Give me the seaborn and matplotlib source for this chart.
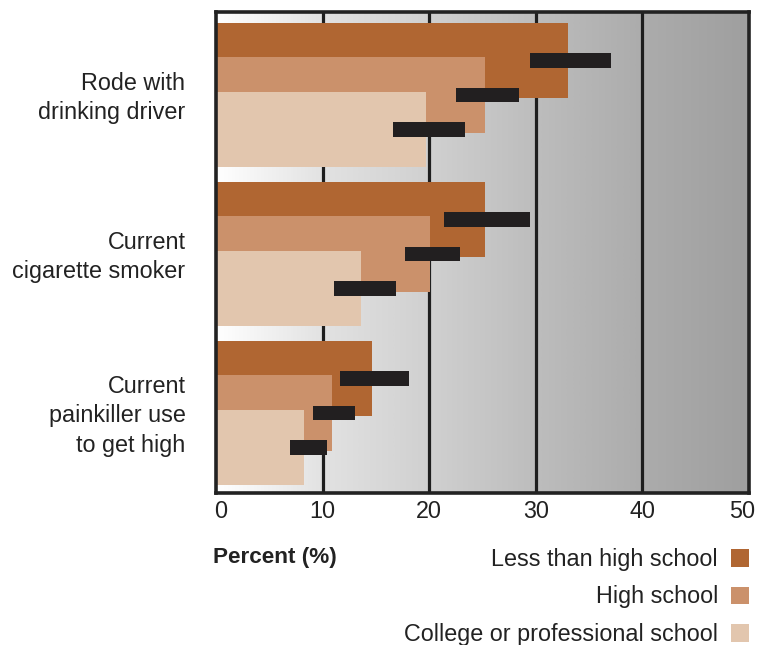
import numpy as np
import pandas as pd
import seaborn as sns
import matplotlib.pyplot as plt
from matplotlib.colors import LinearSegmentedColormap
from matplotlib.patches import Patch
from matplotlib.transforms import ScaledTranslation

# ---- data ----
behaviors = ["Rode with\ndrinking driver", "Current\ncigarette smoker",
             "Current\npainkiller use\nto get high"]
groups = ["Less than high school", "High school", "College or professional school"]
less_hs = [33.0, 25.2, 14.6]
high_school = [25.2, 20.1, 10.9]
college = [19.7, 13.6, 8.3]
less_hs_ci_low = [29.5, 21.4, 11.6]
less_hs_ci_high = [37.1, 29.5, 18.1]
hs_ci_low = [22.5, 17.7, 9.1]
hs_ci_high = [28.4, 22.9, 13.0]
col_ci_low = [16.6, 11.1, 6.9]
col_ci_high = [23.4, 16.9, 10.4]
x_ticks = [0, 10, 20, 30, 40, 50]

colors = ["#b06632", "#cb916b", "#e2c6ae"]
ci_color = "#221f20"
offsets = [-0.217, 0.0, 0.217]

values = [less_hs, high_school, college]
lows = [less_hs_ci_low, hs_ci_low, col_ci_low]
highs = [less_hs_ci_high, hs_ci_high, col_ci_high]

rows = []
for gi, g in enumerate(groups):
    for bi, b in enumerate(behaviors):
        rows.append(dict(behavior=b, group=g, pos=bi + offsets[gi],
                         value=values[gi][bi], lo=lows[gi][bi], hi=highs[gi][bi]))
df = pd.DataFrame(rows)

sns.set_theme(style="white")
plt.rcParams['font.family'] = ['Liberation Sans', 'DejaVu Sans']

FS = 16.8
fig = plt.figure(figsize=(7.58, 6.45), dpi=100)
ax = fig.add_axes([216/758, 1-493/645, (749-216)/758, (493-12)/645])

ylim = (2.503, -0.522)

# background gradient
grad_cmap = LinearSegmentedColormap.from_list(
    "bg", [(0.0, "#ffffff"), (0.2, "#e2e2e2"), (0.4, "#d0d0d0"),
           (0.6, "#bdbdbd"), (0.8, "#acacac"), (1.0, "#9f9f9f")])
grad = np.linspace(0, 1, 512).reshape(1, -1)
ax.imshow(grad, cmap=grad_cmap, aspect='auto', extent=[0, 50, ylim[0], ylim[1]],
          zorder=0, interpolation='bilinear')

for x in x_ticks[1:-1]:
    ax.axvline(x, color="#1e1e1e", lw=2.3, zorder=1)

for gi, g in enumerate(groups):
    sub = df[df.group == g]
    sns.barplot(data=sub, x="value", y="pos", orient="h", native_scale=True,
                width=0.472, color=colors[gi], saturation=1, errorbar=None,
                ax=ax, zorder=2, linewidth=0)

ax.barh(df["pos"], df["hi"] - df["lo"], left=df["lo"], height=0.094,
        color=ci_color, zorder=3, linewidth=0)

ax.set_xlim(0, 50)
ax.set_ylim(*ylim)
ax.set_xlabel("")
ax.set_ylabel("")
ax.set_xticks(x_ticks)
ax.set_xticklabels([str(t) for t in x_ticks])
ax.set_yticks(range(len(behaviors)))
ax.set_yticklabels(behaviors, linespacing=1.36)
ax.tick_params(axis='x', length=0, pad=5, labelsize=FS, labelcolor="#222222")
ax.tick_params(axis='y', length=0, pad=22, labelsize=FS, labelcolor="#222222")
xl = ax.get_xticklabels()
xl[0].set_transform(xl[0].get_transform() + ScaledTranslation(5/100, 0, fig.dpi_scale_trans))
xl[-1].set_transform(xl[-1].get_transform() + ScaledTranslation(-7/100, 0, fig.dpi_scale_trans))
for t in ax.get_yticklabels():
    t.set_transform(t.get_transform() + ScaledTranslation(0, 3/100, fig.dpi_scale_trans))
for s in ax.spines.values():
    s.set_color("#222222")
    s.set_linewidth(2.6)
    s.set_visible(True)
    s.set_zorder(5)

fig.text(213/758, 1-557/645, "Percent (%)", fontsize=16.2, fontweight='bold',
         color="#222222", va='center', ha='left')

handles = [Patch(facecolor=c, edgecolor='none') for c in colors]
fig.legend(handles, groups, loc='upper right', bbox_to_anchor=(749/758, 1-548/645),
           markerfirst=False, frameon=False, fontsize=FS, handlelength=0.77,
           handleheight=0.77, handletextpad=0.56, labelspacing=0.62,
           borderpad=0, borderaxespad=0, labelcolor="#222222")

fig.savefig("out.png", dpi=100)
